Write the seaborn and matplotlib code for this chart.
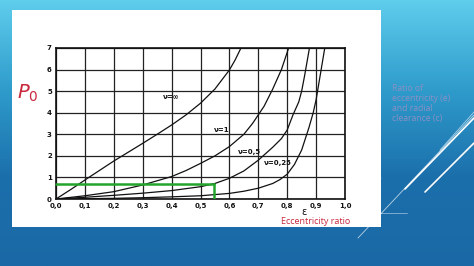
import numpy as np
import pandas as pd
import matplotlib
matplotlib.use("Agg")
import matplotlib.pyplot as plt
import seaborn as sns
from matplotlib.lines import Line2D
from matplotlib.patches import Rectangle
from matplotlib.colors import LinearSegmentedColormap

# ---- data ----
eps_inf = [0.0, 0.05, 0.1, 0.15, 0.2, 0.25, 0.3, 0.35, 0.4, 0.45, 0.5, 0.55, 0.6, 0.62, 0.64]
p_inf = [0.0, 0.43, 0.88, 1.32, 1.76, 2.17, 2.58, 3.0, 3.43, 3.9, 4.44, 5.1, 5.98, 6.45, 7.0]

eps_1 = [0.0, 0.1, 0.2, 0.3, 0.4, 0.45, 0.5, 0.55, 0.6, 0.65, 0.68, 0.7, 0.72, 0.75, 0.78, 0.805]
p_1 = [0.0, 0.15, 0.34, 0.65, 1.04, 1.32, 1.65, 2.0, 2.43, 3.0, 3.5, 3.9, 4.3, 5.1, 6.0, 7.0]

eps_05 = [0.0, 0.1, 0.2, 0.3, 0.4, 0.5, 0.55, 0.6, 0.65, 0.7, 0.75, 0.78, 0.8, 0.82, 0.84, 0.85, 0.86, 0.877]
p_05 = [0.0, 0.08, 0.17, 0.27, 0.39, 0.57, 0.72, 0.96, 1.3, 1.8, 2.4, 2.8, 3.2, 3.9, 4.5, 5.0, 5.7, 7.0]

eps_025 = [0.0, 0.2, 0.3, 0.4, 0.5, 0.6, 0.65, 0.7, 0.75, 0.775, 0.8, 0.825, 0.85, 0.875, 0.89, 0.9, 0.915, 0.93]
p_025 = [0.0, 0.03, 0.06, 0.1, 0.15, 0.26, 0.36, 0.5, 0.72, 0.9, 1.15, 1.6, 2.27, 3.3, 4.0, 4.6, 5.8, 7.0]

curve_names = ["inf", "1", "0.5", "0.25"]
label_texts = ["ν=∞", "ν=1", "ν=0,5", "ν=0,25"]
label_pos = [(0.37, 4.75), (0.545, 3.2), (0.63, 2.2), (0.72, 1.65)]

green_eps = 0.545
green_p = 0.7

xticks = [0.0, 0.1, 0.2, 0.3, 0.4, 0.5, 0.6, 0.7, 0.8, 0.9, 1.0]
xticklabels = ["0,0", "0,1", "0,2", "0,3", "0,4", "0,5", "0,6", "0,7", "0,8", "0,9", "1,0"]
yticks = [0, 1, 2, 3, 4, 5, 6, 7]

df = pd.concat([
    pd.DataFrame({"eps": eps_inf, "P": p_inf, "nu": "inf"}),
    pd.DataFrame({"eps": eps_1, "P": p_1, "nu": "1"}),
    pd.DataFrame({"eps": eps_05, "P": p_05, "nu": "0.5"}),
    pd.DataFrame({"eps": eps_025, "P": p_025, "nu": "0.25"}),
])

sns.set_theme(style="white")
plt.rcParams["font.family"] = ["DejaVu Sans"]

W, H = 474, 266
fig = plt.figure(figsize=(W / 100, H / 100), dpi=100)

# slide background gradient
bg = fig.add_axes([0, 0, 1, 1], zorder=0)
grad = np.linspace(0, 1, 256)[:, None]
cmap = LinearSegmentedColormap.from_list("slide", ["#5fcdec", "#2f9ccc", "#1b6fab", "#1a69a6"])
bg.imshow(grad, aspect="auto", cmap=cmap, extent=[0, 1, 0, 1], origin="upper")
bg.set_xlim(0, 1); bg.set_ylim(0, 1)
bg.axis("off")

# decorative lines
def fl(x0, y0, x1, y1, lw, alpha=1.0):
    bg.add_line(Line2D([x0 / W, x1 / W], [1 - y0 / H, 1 - y1 / H], color="white", lw=lw, alpha=alpha))
fl(358, 238, 474, 115, 0.6, 0.7)
fl(358, 213, 381, 178, 0.6, 0.6)
fl(358, 213, 407, 213, 0.6, 0.5)
fl(405, 189, 474, 118, 1.2)
fl(425, 192, 474, 143, 1.2)
fl(440, 150, 474, 112, 0.6, 0.6)

# white panel
bg.add_patch(Rectangle((12 / W, 1 - 227 / H), (381 - 12) / W, (227 - 10) / H,
                       facecolor="white", edgecolor="none", zorder=2))

ax = fig.add_axes([56 / W, 1 - 199 / H, (345 - 56) / W, (199 - 48) / H], zorder=3)
ax.set_facecolor("white")
sns.lineplot(data=df, x="eps", y="P", hue="nu", units="nu", estimator=None,
             palette={n: "#111111" for n in curve_names}, sort=False,
             lw=0.9, legend=False, ax=ax)

ax.plot([0, green_eps], [green_p, green_p], color="#22a52a", lw=1.8, zorder=4, clip_on=False)
ax.plot([green_eps, green_eps], [green_p, 0], color="#22a52a", lw=1.8, zorder=4)

for t, (x, y) in zip(label_texts, label_pos):
    ax.text(x, y, t, fontsize=5, fontweight="bold", color="#111111", va="center", ha="left")

ax.set_xlim(0, 1)
ax.set_ylim(0, 7)
ax.set_xticks(xticks)
ax.set_xticklabels(xticklabels)
ax.set_yticks(yticks)
ax.tick_params(axis="both", labelsize=5, length=0, pad=3, colors="#111111")
for lab in ax.get_xticklabels() + ax.get_yticklabels():
    lab.set_fontweight("bold")
ax.grid(True, color="#222222", lw=0.9)
for s in ax.spines.values():
    s.set_color("#111111")
    s.set_linewidth(1.2)
ax.set_xlabel("")
ax.set_ylabel("")

fig.text(28 / W, 1 - 93 / H, r"$\mathit{P_0}$", color="#c8283c", fontsize=14, ha="center", va="center")
fig.text(304 / W, 1 - 212 / H, "ε", color="#111111", fontsize=7, ha="center", va="center")
fig.text(316 / W, 1 - 221 / H, "Eccentricity ratio", color="#c8283c", fontsize=6.5,
         ha="center", va="center", family=["Open Sans", "DejaVu Sans"])
fig.text(392 / W, 1 - 84 / H, "Ratio of\neccentricity (e)\nand radial\nclearance (c)",
         color="#8a90c4", fontsize=6.2, ha="left", va="top", linespacing=1.15,
         family=["Open Sans", "DejaVu Sans"])

fig.savefig("out.png", dpi=100)
